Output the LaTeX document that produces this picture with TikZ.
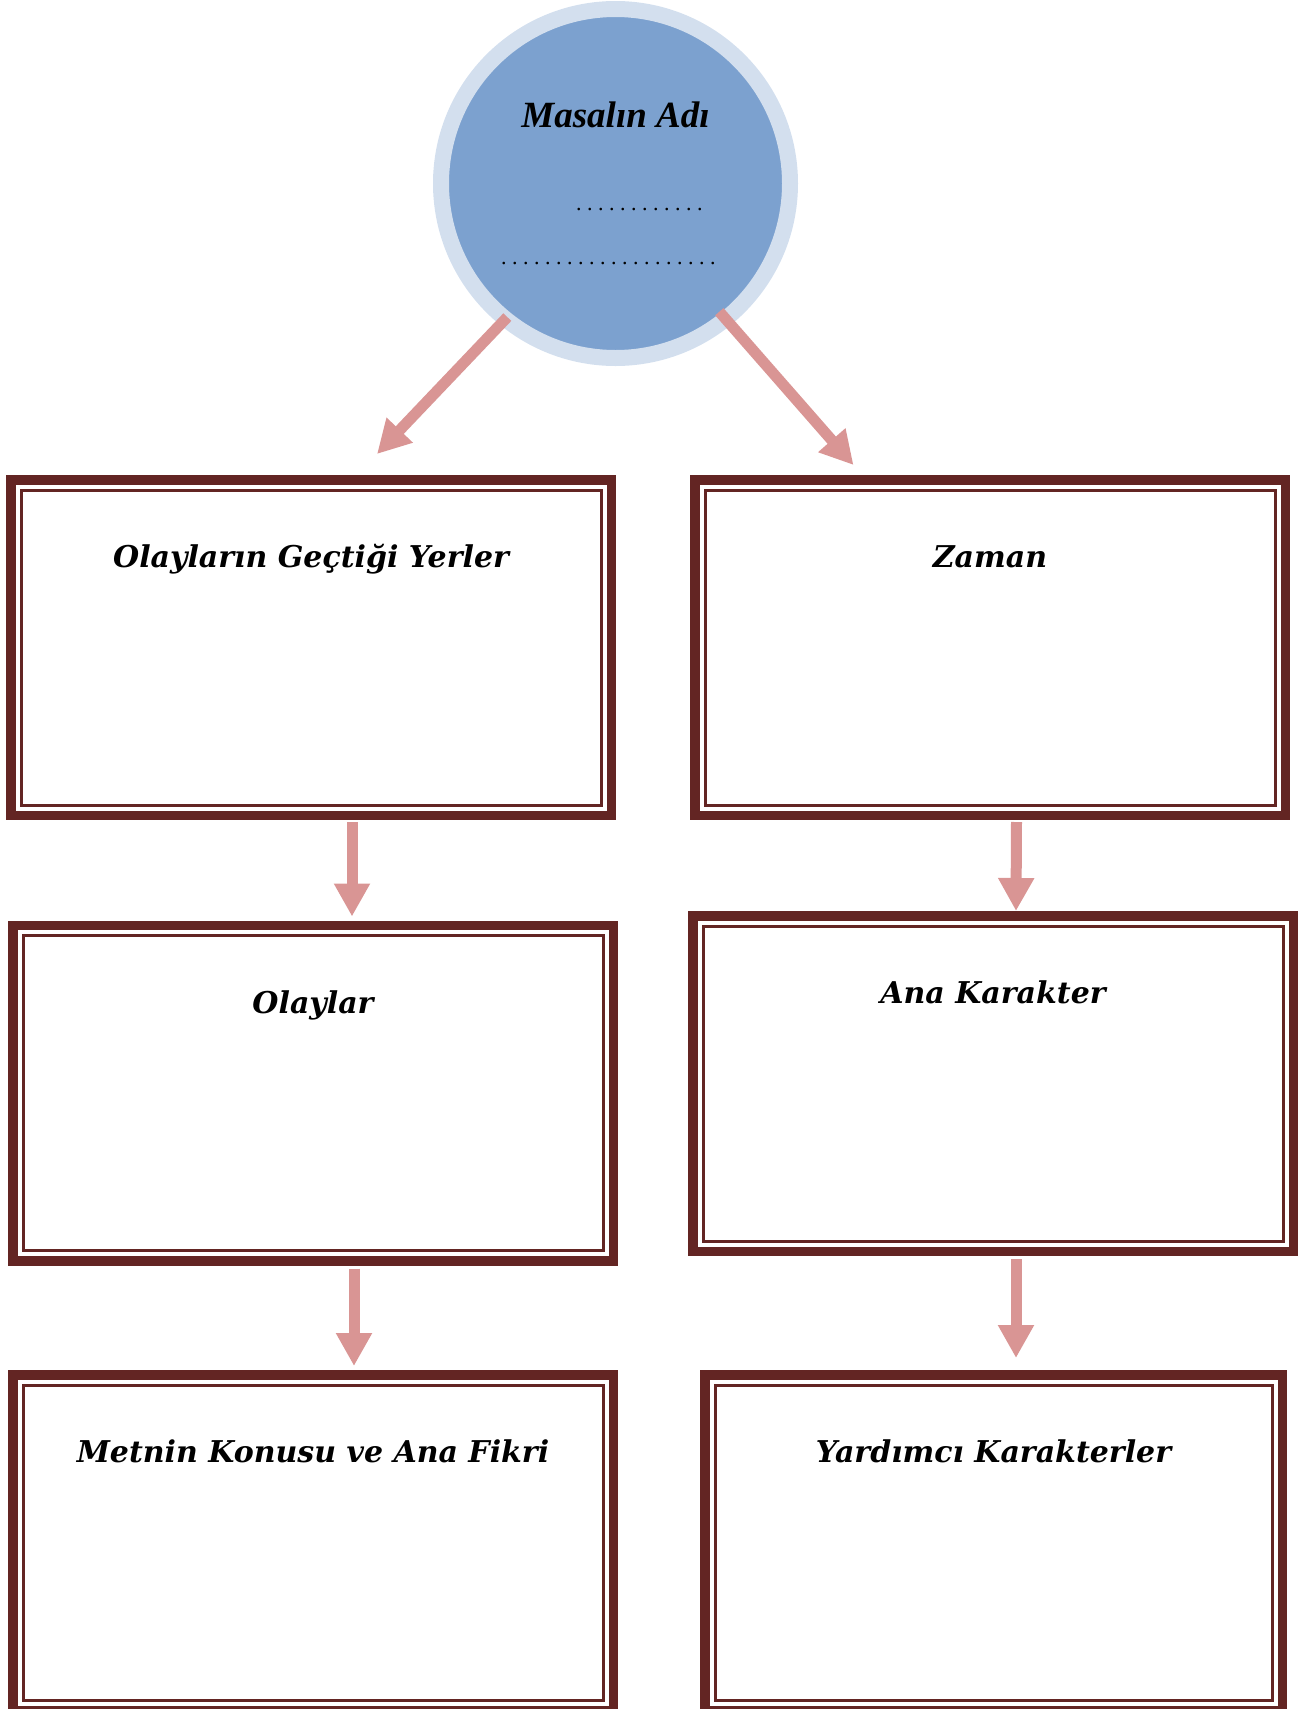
\documentclass[tikz,border=0pt]{standalone}
\usepackage{fontspec}
\setmainfont{Liberation Serif}
\newfontfamily\kutufont{DejaVu Serif}
\newfontfamily\noktafont[LetterSpace=25]{Liberation Serif}
\usetikzlibrary{arrows.meta, calc}
\definecolor{koyu}{HTML}{632523}
\definecolor{pembe}{HTML}{D99594}
\definecolor{mavi}{HTML}{7CA1CF}
\definecolor{acik}{HTML}{D3DFEE}
\tikzset{
  daire/.style={circle, fill=mavi, draw=acik, line width=16pt, minimum size=349pt, inner sep=0pt},
  kutu/.style={draw=koyu, line width=9.5pt, minimum width=#1, minimum height=335.5pt, inner sep=0pt,
    path picture={\draw[koyu, line width=3pt] ([shift={(10.25,10.25)}]path picture bounding box.north west)
      rectangle ([shift={(-10.25,-10.25)}]path picture bounding box.south east);}},
  baslik/.style={font={\kutufont\bfseries\itshape\fontsize{30pt}{36pt}\selectfont}, anchor=base, yshift=-92.5pt},
  ad/.style={font={\bfseries\itshape\fontsize{37pt}{44pt}\selectfont}, anchor=base},
  nokta/.style={font={\noktafont\fontsize{22pt}{26pt}\selectfont}, anchor=base west, inner sep=0pt},
  ok/.style={draw=pembe, line width=11pt, -{Triangle[width=34pt, length=33pt]}},
}
\begin{document}
\begin{tikzpicture}[x=1pt, y=-1pt]
  \useasboundingbox (0,0) rectangle (1309,1709);
  % masal
  \node[daire] (masal) at (615.5,183.5) {};
  \node[ad] (adi) at ($(masal.center)+(0,-56.5)$) {Masalın Adı};
  \node[nokta] (n1) at ($(masal.center)+(-39.5,26.5)$) {............};
  \node[nokta] (n2) at ($(masal.center)+(-114.5,80.5)$) {....................};
  % kutular
  \node[kutu=600.5pt, label={[baslik]north:Olayların Geçtiği Yerler}] (yerler) at (311,647.5) {};
  \node[kutu=590.5pt, label={[baslik]north:Zaman}] (zaman) at (990,647.5) {};
  \node[kutu=600.5pt, label={[baslik]north:Olaylar}] (olaylar) at (313,1093) {};
  \node[kutu=600.5pt, label={[baslik]north:Ana Karakter}] (karakter) at (993,1083.5) {};
  \node[kutu=600.5pt, label={[baslik]north:Metnin Konusu ve Ana Fikri}] (konu) at (313,1542.5) {};
  \node[kutu=577.5pt, label={[baslik]north:Yardımcı Karakterler}] (yardimci) at (993.5,1542.5) {};
  % oklar
  \draw[ok] ($(masal.center)!0.942!(masal.231)$) -- ($(yerler.north)+(66,-21)$);
  \draw[ok] ($(masal.center)!0.904!(masal.309)$) -- ($(zaman.north)+(-136.5,-10)$);
  \draw[ok] ($(yerler.south)+(41,2)$) -- ($(olaylar.north)+(39,-4)$);
  \draw[ok] ($(zaman.south)+(26.5,2)$) -- ($(karakter.north)+(23,0)$);
  \draw[ok] ($(olaylar.south)+(41,3)$) -- ($(konu.north)+(41,-4)$);
  \draw[ok] ($(karakter.south)+(23,3)$) -- ($(yardimci.north)+(22.5,-12)$);
\end{tikzpicture}
\end{document}
